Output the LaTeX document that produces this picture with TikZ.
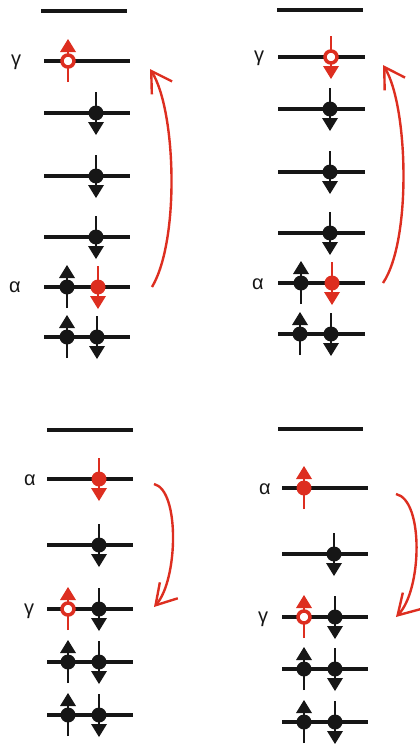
\documentclass[tikz,border=0pt]{standalone}
\usepackage{fontspec}
\setmainfont{Liberation Sans}
\usetikzlibrary{arrows.meta}
\definecolor{ink}{RGB}{22,22,22}
\definecolor{spinred}{RGB}{221,46,32}

% one electron: x, y, direction (1 up, -1 down), colour, dot style
\newcommand{\spin}[5]{%
	\draw[line width=2.6pt, #4] (#1,#2+21*#3) -- (#1,#2-12*#3);
	\fill[#4] (#1-8,#2-9*#3) -- (#1+8,#2-9*#3) -- (#1,#2-22*#3) -- cycle;
	\node[#5] (e-#1-#2) at (#1,#2) {};
}

\begin{document}
\begin{tikzpicture}[x=1pt, y=-1pt,
		lvl/.style={line width=4pt, ink},
		dot/.style={circle, fill=ink, inner sep=0pt, minimum size=15pt},
		reddot/.style={circle, fill=spinred, inner sep=0pt, minimum size=15pt},
		hole/.style={circle, draw=spinred, fill=white, line width=3.5pt, inner sep=0pt, minimum size=12pt},
		hop/.style={spinred, line width=2.4pt, -{Straight Barb[length=20pt, width=24pt]}},
		lbl/.style={font=\fontsize{20}{20}\selectfont, ink}]
	\useasboundingbox (0,0) rectangle (420,744);
	
	%top left
	\draw[lvl] (41,11) -- (127,11);
	\foreach \y in {61, 113, 176, 237, 287, 337}{
		\draw[lvl] (44,\y) -- (130,\y);
	}
	\node[lbl] (g1) at (16,62) {γ};
	\node[lbl] (a1) at (15,287) {α};
	\spin{68}{61}{1}{spinred}{hole}
	\foreach \y in {113, 176, 237}{
		\spin{96}{\y}{-1}{ink}{dot}
	}
	\spin{67}{287}{1}{ink}{dot}
	\spin{98}{287}{-1}{spinred}{reddot}
	\spin{67}{337}{1}{ink}{dot}
	\spin{97}{337}{-1}{ink}{dot}
	\coordinate (h1s) at (152,287);
	\coordinate (h1e) at (150,69);
	\draw[hop] (h1s) .. controls (180,240) and (176,110) .. (h1e);
	
	%top right
	\draw[lvl] (277,10) -- (363,10);
	\foreach \y in {57, 109, 172, 233, 283, 334}{
		\draw[lvl] (278,\y) -- (365,\y);
	}
	\node[lbl] (g2) at (259,58) {γ};
	\node[lbl] (a2) at (258,284) {α};
	\spin{331}{57}{-1}{spinred}{hole}
	\foreach \y in {109, 172, 233}{
		\spin{330}{\y}{-1}{ink}{dot}
	}
	\spin{301}{283}{1}{ink}{dot}
	\spin{332}{283}{-1}{spinred}{reddot}
	\spin{300}{334}{1}{ink}{dot}
	\spin{331}{334}{-1}{ink}{dot}
	\coordinate (h2s) at (383,283);
	\coordinate (h2e) at (383,65);
	\draw[hop] (h2s) .. controls (412,240) and (408,105) .. (h2e);
	
	%bottom left
	\foreach \y in {430, 479, 545, 609, 662, 715}{
		\draw[lvl] (47,\y) -- (133,\y);
	}
	\node[lbl] (a3) at (30,480) {α};
	\node[lbl] (g3) at (29,611) {γ};
	\spin{99}{479}{-1}{spinred}{reddot}
	\spin{99}{545}{-1}{ink}{dot}
	\spin{68}{609}{1}{spinred}{hole}
	\spin{99}{609}{-1}{ink}{dot}
	\foreach \y in {662, 715}{
		\spin{68}{\y}{1}{ink}{dot}
		\spin{99}{\y}{-1}{ink}{dot}
	}
	\coordinate (h3s) at (154,484);
	\coordinate (h3e) at (154,607);
	\draw[hop] (h3s) .. controls (180,490) and (178,580) .. (h3e);
	
	%bottom right
	\draw[lvl] (278,429) -- (363,429);
	\foreach \y in {488, 554, 617, 669, 722}{
		\draw[lvl] (282,\y) -- (368,\y);
	}
	\node[lbl] (a4) at (265,489) {α};
	\node[lbl] (g4) at (263,619) {γ};
	\spin{304}{488}{1}{spinred}{reddot}
	\spin{334}{554}{-1}{ink}{dot}
	\spin{304}{617}{1}{spinred}{hole}
	\spin{335}{617}{-1}{ink}{dot}
	\foreach \y in {669, 722}{
		\spin{304}{\y}{1}{ink}{dot}
		\spin{335}{\y}{-1}{ink}{dot}
	}
	\coordinate (h4s) at (396,494);
	\coordinate (h4e) at (396,617);
	\draw[hop] (h4s) .. controls (424,500) and (422,590) .. (h4e);
\end{tikzpicture}
\end{document}
